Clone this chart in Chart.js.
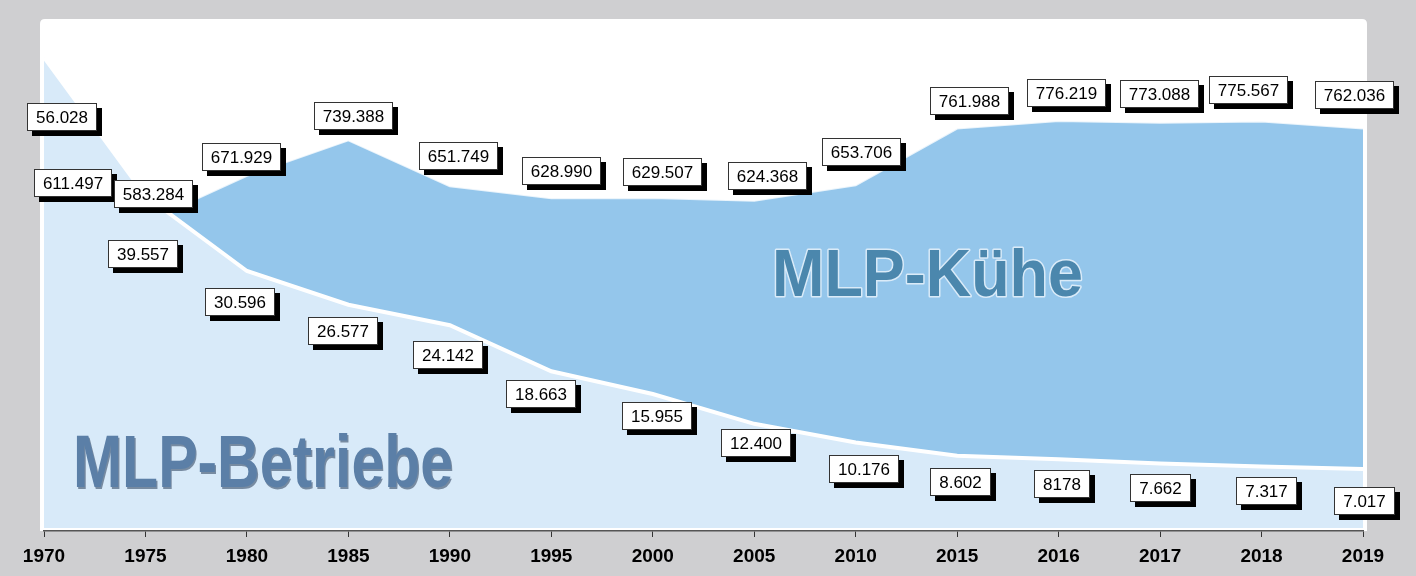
<!DOCTYPE html>
<html>
<head>
<meta charset="utf-8">
<script src="https://cdn.jsdelivr.net/npm/chart.js@4"></script>
<style>
  html, body { margin: 0; padding: 0; background: #cfcfd1; }
  canvas { display: block; }
</style>
</head>
<body>
<canvas id="chart" width="1416" height="576"></canvas>
<script>
// years on the x axis (evenly spaced like the original)
const years = ['1970', '1975', '1980', '1985', '1990', '1995', '2000', '2005', '2010', '2015', '2016', '2017', '2018', '2019'];

// MLP-Betriebe (farms)
const betriebe = [56028, 39557, 30596, 26577, 24142, 18663, 15955, 12400, 10176, 8602, 8178, 7662, 7317, 7017];
const betriebeLabels = ['56.028', '39.557', '30.596', '26.577', '24.142', '18.663', '15.955', '12.400', '10.176', '8.602', '8178', '7.662', '7.317', '7.017'];

// MLP-Kühe (cows)
const kuehe = [611497, 583284, 671929, 739388, 651749, 628990, 629507, 624368, 653706, 761988, 776219, 773088, 775567, 762036];
const kueheLabels = ['611.497', '583.284', '671.929', '739.388', '651.749', '628.990', '629.507', '624.368', '653.706', '761.988', '776.219', '773.088', '775.567', '762.036'];

// where the value boxes sit relative to their point (px)
const betriebeOffsets = [[18, 60], [-2, 58], [-7, 31], [-5, 26], [-2, 30], [-10, 23], [4, 22], [2, 19], [8, 26], [3, 26], [3, 25], [0, 24], [5, 24], [1, 32]];
const kueheOffsets = [[29, -24], [8, -28], [-5, -19], [5, -24], [9, -30], [10, -27], [10, -26], [13, -25], [6, -33], [12, -28], [8, -28], [-1, -29], [-13, -31], [-9, -34]];

const FONT = '"Liberation Sans", Arial, sans-serif';

// grey page + white rounded panel
const panelPlugin = {
  id: 'panel',
  beforeDraw(chart) {
    const ctx = chart.ctx;
    ctx.save();
    ctx.fillStyle = '#cfcfd1';
    ctx.fillRect(0, 0, chart.width, chart.height);
    const x = 40, y = 19, w = 1327, h = 512, r = 5;
    ctx.fillStyle = '#ffffff';
    ctx.beginPath();
    ctx.moveTo(x + r, y);
    ctx.lineTo(x + w - r, y);
    ctx.quadraticCurveTo(x + w, y, x + w, y + r);
    ctx.lineTo(x + w, y + h);
    ctx.lineTo(x, y + h);
    ctx.lineTo(x, y + r);
    ctx.quadraticCurveTo(x, y, x + r, y);
    ctx.fill();
    ctx.restore();
  }
};

function bigText(ctx, text, left, baseline, size, width, fill, outline) {
  ctx.save();
  ctx.font = 'bold ' + size + 'px ' + FONT;
  const natural = ctx.measureText(text).width;
  ctx.translate(left, baseline);
  ctx.scale(width / natural, 1);
  ctx.textBaseline = 'alphabetic';
  ctx.textAlign = 'left';
  if (outline) {
    ctx.lineWidth = 3;
    ctx.lineJoin = 'round';
    ctx.strokeStyle = outline;
    ctx.strokeText(text, 0, 0);
  } else {
    ctx.fillStyle = 'rgba(40,60,90,0.55)';
    ctx.fillText(text, 1.5, 1.5);
  }
  ctx.fillStyle = fill;
  ctx.fillText(text, 0, 0);
  ctx.restore();
}

function valueBox(ctx, text, cx, cy) {
  ctx.font = '17px ' + FONT;
  const w = Math.round(ctx.measureText(text).width + 18);
  const h = 28;
  const x = Math.round(cx - w / 2), y = Math.round(cy - h / 2);
  ctx.fillStyle = '#000000';
  ctx.fillRect(x + 5, y + 5, w, h);
  ctx.fillStyle = '#ffffff';
  ctx.fillRect(x, y, w, h);
  ctx.strokeStyle = '#333333';
  ctx.lineWidth = 1;
  ctx.strokeRect(x + 0.5, y + 0.5, w - 1, h - 1);
  ctx.fillStyle = '#000000';
  ctx.textAlign = 'center';
  ctx.textBaseline = 'middle';
  ctx.fillText(text, x + w / 2, y + h / 2 + 1);
}

const labelPlugin = {
  id: 'labels',
  afterDatasetsDraw(chart) {
    const ctx = chart.ctx;
    const area = chart.chartArea;
    // series names
    bigText(ctx, 'MLP-Kühe', area.left + 728, 296, 66, 311, '#4b87ad', 'rgba(225,238,250,0.9)');
    bigText(ctx, 'MLP-Betriebe', area.left + 29, 487, 75, 380, '#5b7fa7', null);

    ctx.save();
    const metaB = chart.getDatasetMeta(0);
    const metaK = chart.getDatasetMeta(1);
    metaK.data.forEach((pt, i) => {
      valueBox(ctx, kueheLabels[i], pt.x + kueheOffsets[i][0], pt.y + kueheOffsets[i][1]);
    });
    metaB.data.forEach((pt, i) => {
      valueBox(ctx, betriebeLabels[i], pt.x + betriebeOffsets[i][0], pt.y + betriebeOffsets[i][1]);
    });
    ctx.restore();
  }
};

new Chart(document.getElementById('chart'), {
  type: 'line',
  data: {
    labels: years,
    datasets: [
      {
        label: 'MLP-Betriebe',
        data: betriebe,
        yAxisID: 'yB',
        fill: 'origin',
        backgroundColor: '#d8eaf9',
        borderColor: '#ffffff',
        borderWidth: 4,
        pointRadius: 0,
        tension: 0
      },
      {
        label: 'MLP-Kühe',
        data: kuehe,
        yAxisID: 'yK',
        fill: 'origin',
        backgroundColor: '#94c6eb',
        borderColor: 'rgba(255,255,255,0.8)',
        borderWidth: 2,
        pointRadius: 0,
        tension: 0
      }
    ]
  },
  options: {
    responsive: false,
    devicePixelRatio: 1,
    animation: false,
    layout: { padding: { left: 44, right: 53, top: 20, bottom: 0 } },
    plugins: {
      legend: { display: false },
      tooltip: { enabled: false }
    },
    scales: {
      x: {
        offset: false,
        afterFit(scale) { scale.height = 45; },
        grid: {
          display: true,
          drawOnChartArea: false,
          drawTicks: true,
          tickLength: 6,
          color: '#333333',
          lineWidth: 1
        },
        border: { display: true, color: '#555555', width: 1.5 },
        ticks: {
          autoSkip: false,
          maxRotation: 0,
          padding: 8,
          color: '#000000',
          font: { family: FONT, size: 19, weight: 'bold' }
        }
      },
      yB: {
        display: false,
        position: 'left',
        min: -360,
        max: 60480
      },
      yK: {
        display: false,
        position: 'right',
        min: -5700,
        max: 969100
      }
    }
  },
  plugins: [panelPlugin, labelPlugin]
});
</script>
</body>
</html>
